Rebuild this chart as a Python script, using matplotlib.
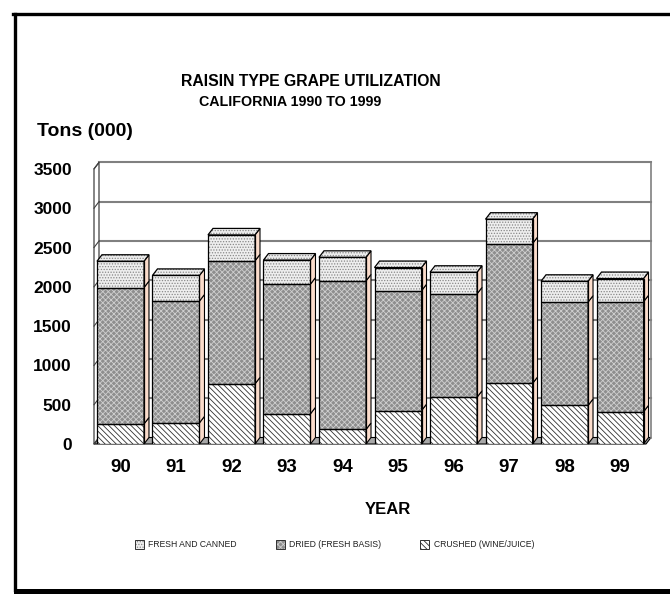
import matplotlib
matplotlib.use("Agg")
import matplotlib.pyplot as plt
from matplotlib.patches import Rectangle, Polygon
from matplotlib.lines import Line2D

years = ["90", "91", "92", "93", "94", "95", "96", "97", "98", "99"]
crushed = [255, 270, 765, 385, 185, 425, 595, 770, 490, 410]
dried = [1735, 1550, 1565, 1650, 1890, 1525, 1315, 1780, 1315, 1400]
fresh = [335, 325, 330, 305, 300, 295, 275, 310, 265, 295]
series_names = ["CRUSHED (WINE/JUICE)", "DRIED (FRESH BASIS)", "FRESH AND CANNED"]
yticks = [0, 500, 1000, 1500, 2000, 2500, 3000, 3500]

plt.rcParams['font.family'] = ['Liberation Sans', 'DejaVu Sans']
plt.rcParams['hatch.linewidth'] = 0.6

W, H = 670, 594
fig = plt.figure(figsize=(W / 100, H / 100), dpi=100)
fig.patch.set_facecolor('white')

def fx(px):
    return px / W

def fy(py):
    return 1 - py / H

# outer frame
fig.add_artist(Line2D([fx(14.5), fx(14.5)], [fy(13.5), fy(590)], color='black', lw=2.4))
fig.add_artist(Line2D([fx(13), fx(672)], [fy(13.5), fy(13.5)], color='black', lw=2.4))
fig.add_artist(Line2D([fx(16), fx(672)], [fy(590.5), fy(590.5)], color='black', lw=3.6))

# axes (front plane)
left_px, right_px, bot_px, top_px = 94, 646, 444, 168.9
ax = fig.add_axes([fx(left_px), fy(bot_px), fx(right_px - left_px), (bot_px - top_px) / H])
xmin, xmax = -0.477, 9.468
ax.set_xlim(xmin, xmax)
ax.set_ylim(0, 3500)
for s in ax.spines.values():
    s.set_visible(False)
ax.patch.set_alpha(0)

ddx = 5 * (xmax - xmin) / (right_px - left_px)
ddy = 6.5 * 3500 / (bot_px - top_px)

# floor
ax.add_patch(Polygon([(xmin, 0), (xmax, 0), (xmax + ddx, ddy), (xmin + ddx, ddy)],
                     closed=True, facecolor='#a8a8a8', edgecolor='black', lw=0.8,
                     clip_on=False, zorder=1))
# back wall gridlines
for v in yticks[1:]:
    ax.plot([xmin + ddx, xmax + ddx], [v + ddy, v + ddy], color='#808080', lw=1.5,
            clip_on=False, zorder=1)
# right wall edge
ax.plot([xmax + ddx, xmax + ddx], [ddy, 3500 + ddy], color='#808080', lw=1.2, clip_on=False, zorder=1)
# left wall
ax.add_patch(Polygon([(xmin, 0), (xmin + ddx, ddy), (xmin + ddx, 3500 + ddy), (xmin, 3500)],
                     closed=True, facecolor='white', edgecolor='#404040', lw=0.9,
                     clip_on=False, zorder=1))
for v in yticks:
    ax.plot([xmin, xmin + ddx], [v, v + ddy], color='#404040', lw=0.8, clip_on=False, zorder=1)

styles = [
    dict(face='white', hatch='\\\\\\\\\\\\', hcol='#303030'),
    dict(face='#8e8e8e', hatch='xxxxxx', hcol='#cfcfcf'),
    dict(face='#eeeeee', hatch='......', hcol='#888888'),
]
side_col = '#fbdccb'
bw = 47 / 55.5

xs = list(range(len(years)))
bottoms = [0] * len(years)
for values, st in zip([crushed, dried, fresh], styles):
    ax.bar(xs, values, bw, bottom=bottoms, color=st['face'], edgecolor=st['hcol'],
           hatch=st['hatch'], lw=0, zorder=3)
    ax.bar(xs, values, bw, bottom=bottoms, facecolor='none', edgecolor='black', lw=0.9, zorder=4)
    for i, (x, b, h) in enumerate(zip(xs, bottoms, values)):
        xr = x + bw / 2
        ax.add_patch(Polygon([(xr, b), (xr + ddx, b + ddy), (xr + ddx, b + h + ddy), (xr, b + h)],
                             closed=True, facecolor=side_col, edgecolor='black', lw=0.8,
                             clip_on=False, zorder=3))
    bottoms = [b + v for b, v in zip(bottoms, values)]

# top faces
st = styles[2]
for x, t in zip(xs, bottoms):
    xl, xr = x - bw / 2, x + bw / 2
    poly = [(xl, t), (xr, t), (xr + ddx, t + ddy), (xl + ddx, t + ddy)]
    ax.add_patch(Polygon(poly, closed=True, facecolor=st['face'], edgecolor=st['hcol'],
                         hatch=st['hatch'], lw=0, clip_on=False, zorder=3))
    ax.add_patch(Polygon(poly, closed=True, facecolor='none', edgecolor='black', lw=0.9,
                         clip_on=False, zorder=4))

ax.set_yticks(yticks)
ax.set_yticklabels([str(v) for v in yticks], fontsize=12.5, fontweight='bold')
ax.set_xticks(xs)
ax.set_xticklabels(years, fontsize=13.5, fontweight='bold')
ax.tick_params(axis='y', length=0, pad=16)
ax.tick_params(axis='x', length=0, pad=11)

# titles
fig.text(fx(311), fy(82), "RAISIN TYPE GRAPE UTILIZATION", ha='center', va='center',
         fontsize=11.3, fontweight='bold')
fig.text(fx(290), fy(102), "CALIFORNIA 1990 TO 1999", ha='center', va='center',
         fontsize=10.3, fontweight='bold')
fig.text(fx(37), fy(131), "Tons (000)", ha='left', va='center', fontsize=14, fontweight='bold')
fig.text(fx(388), fy(509), "YEAR", ha='center', va='center', fontsize=12, fontweight='bold')

# legend
leg_items = [(2, 135, 148), (1, 276, 289), (0, 420, 434)]
for idx, sx, tx in leg_items:
    st = styles[idx]
    r = Rectangle((fx(sx), fy(549)), fx(9), 9 / H, transform=fig.transFigure,
                  facecolor=st['face'], edgecolor=st['hcol'], hatch=st['hatch'], lw=0)
    fig.add_artist(r)
    fig.add_artist(Rectangle((fx(sx), fy(549)), fx(9), 9 / H, transform=fig.transFigure,
                             facecolor='none', edgecolor='#303030', lw=0.7))
    fig.text(fx(tx), fy(544.5), series_names[idx], ha='left', va='center', fontsize=6.2,
             color='#202020')

fig.savefig('out.png', dpi=100)
